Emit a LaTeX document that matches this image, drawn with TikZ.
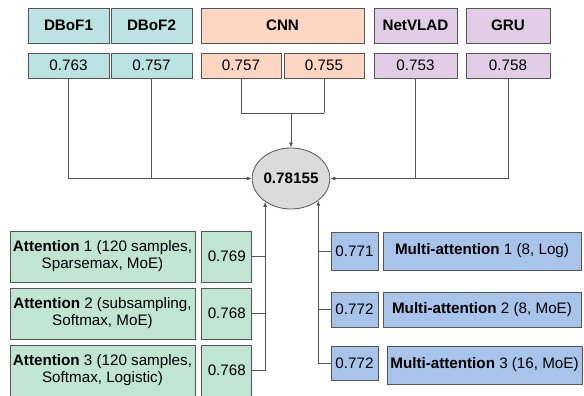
\documentclass[tikz,border=0pt]{standalone}
\usepackage{fontspec}
\setmainfont{Liberation Sans}
\usetikzlibrary{arrows.meta,positioning,shapes.geometric}

\definecolor{dbofcol}{HTML}{BCE3E3}
\definecolor{cnncol}{HTML}{FCD5C3}
\definecolor{vladcol}{HTML}{E1CDE5}
\definecolor{attcol}{HTML}{C1E5D3}
\definecolor{mattcol}{HTML}{A9C4EA}
\definecolor{edgecol}{HTML}{555555}

\begin{document}
\begin{tikzpicture}[x=1pt,y=-1pt,>={Latex[length=5pt,width=4pt]},line width=0.8pt,
  box/.style={rectangle,draw=edgecol,inner sep=1pt,font=\fontsize{15.2}{17}\selectfont,align=center},
  head node/.style={box,minimum height=35pt,font=\fontsize{15.2}{17}\selectfont\bfseries},
  score node/.style={box,minimum height=25pt},
  att node/.style={box,fill=attcol,minimum height=51pt},
  matt node/.style={box,fill=mattcol},
  line/.style={draw=edgecol}]
  \useasboundingbox (0,0) rectangle (584,396);
  % top row
  \node[head node,fill=dbofcol,minimum width=81pt] (dbof1) at (68.5,25.5) {DBoF1};
  \node[head node,fill=dbofcol,minimum width=81pt] (dbof2) at (151.5,25.5) {DBoF2};
  \node[head node,fill=cnncol,minimum width=163pt] (cnn) at (282.5,25.5) {CNN};
  \node[head node,fill=vladcol,minimum width=83pt] (vlad) at (415.5,25.5) {NetVLAD};
  \node[head node,fill=vladcol,minimum width=84pt] (gru) at (508,25.5) {GRU};
  \node[score node,fill=dbofcol,minimum width=81pt] (sdbof1) at (68.5,65.5) {0.763};
  \node[score node,fill=dbofcol,minimum width=81pt] (sdbof2) at (151.5,65.5) {0.757};
  \node[score node,fill=cnncol,minimum width=80pt] (scnn1) at (241,65.5) {0.757};
  \node[score node,fill=cnncol,minimum width=80pt] (scnn2) at (324,65.5) {0.755};
  \node[score node,fill=vladcol,minimum width=83pt] (svlad) at (415.5,65.5) {0.753};
  \node[score node,fill=vladcol,minimum width=84pt] (sgru) at (508,65.5) {0.758};
  % ensemble
  \node[ellipse,draw=edgecol,fill=black!14,minimum width=67pt,minimum height=61pt,inner sep=0pt,
        font=\fontsize{15.2}{17}\selectfont\bfseries] (res) at (291,178.5) {0.78155};
  % attention models
  \node[att node,minimum width=185pt] (att1) at (102.5,256.5) {\textbf{Attention} 1 (120 samples,\\Sparsemax, MoE)};
  \node[att node,minimum width=185pt] (att2) at (102.5,313.5) {\textbf{Attention} 2 (subsampling,\\Softmax, MoE)};
  \node[att node,minimum width=185pt] (att3) at (102.5,370.5) {\textbf{Attention} 3 (120 samples,\\Softmax, Logistic)};
  \node[att node,minimum width=50pt] (satt1) [right=6pt of att1] {0.769};
  \node[att node,minimum width=50pt] (satt2) [right=6pt of att2] {0.768};
  \node[att node,minimum width=50pt] (satt3) [right=6pt of att3] {0.768};
  % multi-attention models
  \node[matt node,minimum width=47pt,minimum height=38pt] (smatt1) at (354.5,251) {0.771};
  \node[matt node,minimum width=47pt,minimum height=35pt] (smatt2) at (354.5,309.5) {0.772};
  \node[matt node,minimum width=47pt,minimum height=34pt] (smatt3) at (354.5,363) {0.772};
  \node[matt node,minimum width=198pt,minimum height=38pt] (matt1) at (482,251) {\textbf{Multi-attention} 1 (8, Log)};
  \node[matt node,minimum width=198pt,minimum height=35pt] (matt2) at (482,309.5) {\textbf{Multi-attention} 2 (8, MoE)};
  \node[matt node,minimum width=195pt,minimum height=38pt] (matt3) at (484.5,365) {\textbf{Multi-attention} 3 (16, MoE)};

  \coordinate (cnnjoin) at (res.north |- 0,113);
  \path[line]
    (sdbof1.south) edge (sdbof1.south |- res.west)
    (sdbof1.south |- res.west) edge[->] (res.west)
    (sdbof2.south) edge (sdbof2.south |- res.west)
    (sgru.south) edge (sgru.south |- res.east)
    (sgru.south |- res.east) edge[->] (res.east)
    (svlad.south) edge (svlad.south |- res.east)
    (scnn1.south) edge (scnn1.south |- cnnjoin)
    (scnn2.south) edge (scnn2.south |- cnnjoin)
    (scnn1.south |- cnnjoin) edge (scnn2.south |- cnnjoin)
    (cnnjoin) edge[->] (res.north);
  \draw[line,->] (satt3.east) -| (res.222);
  \draw[line] (satt1.east) -- (satt1.east -| res.222);
  \draw[line] (satt2.east) -- (satt2.east -| res.222);
  \draw[line,->] (smatt3.west) -| (res.-39);
  \draw[line] (smatt1.west) -- (smatt1.west -| res.-39);
  \draw[line] (smatt2.west) -- (smatt2.west -| res.-39);
\end{tikzpicture}
\end{document}
